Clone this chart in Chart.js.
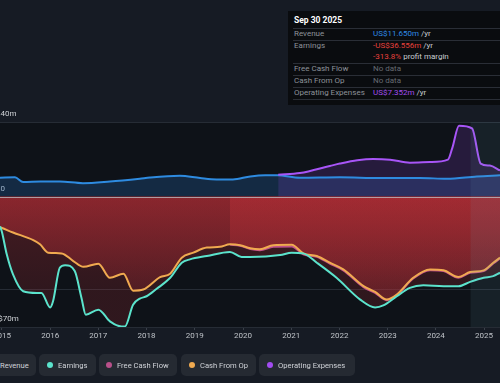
<!DOCTYPE html>
<html>
<head>
<meta charset="utf-8">
<script src="https://cdn.jsdelivr.net/npm/chart.js@4.4.0/dist/chart.umd.min.js"></script>
<style>
  html, body { margin:0; padding:0; background:#161b24; width:500px; height:383px; overflow:hidden; font-family: Roboto, "Noto Sans", sans-serif; }
  #wrap { position:absolute; left:0; top:0; width:500px; height:383px; }
  #tip { position:absolute; left:288px; top:11px; width:230px; height:94px; background:#0a0c0f; font-size:8px; }
  #tip .row { position:absolute; left:6px; right:0; height:12px; line-height:12px; white-space:nowrap; }
  #tip .sep { position:absolute; left:5px; right:0; height:1px; background:#2a2e36; }
  #tip .lab { position:absolute; left:0; color:#8d9299; }
  #tip .val { position:absolute; left:79px; color:#c9ccd1; }
  .pill { position:absolute; top:354px; height:22px; display:flex; align-items:center; box-sizing:border-box; padding:0 0 0 8px; background:#252a32; border-radius:5px; color:#d0d3d8; font-size:7.6px; white-space:nowrap; }
  .dot { width:6px; height:6px; border-radius:50%; margin-right:5px; flex:none; }
</style>
</head>
<body>
<div id="wrap"><canvas id="c" width="500" height="383"></canvas></div>

<div id="tip">
  <div class="row" style="top:3px;color:#fff;font-weight:bold;font-size:8.5px;">Sep 30 2025</div>
  <div class="sep" style="top:17px"></div>
  <div class="row" style="top:17px"><span class="lab">Revenue</span><span class="val"><span style="color:#2e8be6">US$11.650m</span> /yr</span></div>
  <div class="sep" style="top:29px"></div>
  <div class="row" style="top:29px"><span class="lab">Earnings</span><span class="val"><span style="color:#e8413c">-US$36.556m</span> /yr</span></div>
  <div class="row" style="top:40px"><span class="val"><span style="color:#e8413c">-313.8%</span> profit margin</span></div>
  <div class="sep" style="top:52px"></div>
  <div class="row" style="top:52px"><span class="lab">Free Cash Flow</span><span class="val" style="color:#666b72">No data</span></div>
  <div class="sep" style="top:64px"></div>
  <div class="row" style="top:64px"><span class="lab">Cash From Op</span><span class="val" style="color:#666b72">No data</span></div>
  <div class="sep" style="top:76px"></div>
  <div class="row" style="top:76px"><span class="lab">Operating Expenses</span><span class="val"><span style="color:#a24cf0">US$7.352m</span> /yr</span></div>
  <div class="sep" style="top:88px"></div>
</div>

<div class="pill" style="left:-19px;width:55px"><span class="dot" style="background:#2e8be0"></span>Revenue</div>
<div class="pill" style="left:39px;width:57px;padding-left:8px"><span class="dot" style="background:#5be3cc"></span>Earnings</div>
<div class="pill" style="left:99px;width:78px;padding-left:7px"><span class="dot" style="background:#b8508a"></span>Free Cash Flow</div>
<div class="pill" style="left:181px;width:75px;padding-left:8px"><span class="dot" style="background:#f0aa50"></span>Cash From Op</div>
<div class="pill" style="left:259px;width:96px;padding-left:8px"><span class="dot" style="background:#a24cf0"></span>Operating Expenses</div>

<script>
// ---- data (US$ millions, dates as fractional years) ----
const yearTicks = [2015,2016,2017,2018,2019,2020,2021,2022,2023,2024,2025];
const yTickValues = [-70,-50,0,40];
const yTickLabels = {"-70":"-US$70m","-50":"","0":"US$0","40":"US$40m"};

const revenueDates  = [2014.96,2015.27,2015.44,2015.8,2016.2,2016.68,2017.24,2017.86,2018.07,2018.69,2019.11,2019.45,2019.79,2020.15,2020.46,2020.71,2021.18,2022.01,2022.84,2023.67,2024.23,2024.85,2025.33];
const revenueValues = [10.1,10.3,7.8,8.1,8.1,7.2,8.1,9.6,10.2,11.1,9.9,9.2,9.2,10.8,11.4,11.4,10.1,10.4,9.9,10.0,9.5,10.8,11.4];

const opexDates  = [2020.73,2021.18,2021.8,2022.01,2022.37,2022.7,2023.05,2023.46,2023.88,2024.25,2024.34,2024.48,2024.75,2024.93,2025.12,2025.33];
const opexValues = [11.7,12.6,16.4,17.7,19.5,20.2,19.8,18.2,18.5,19.8,26.0,38.0,36.6,17.7,16.6,14.0];

const earningsDates  = [2014.96,2015.0,2015.1,2015.23,2015.44,2015.72,2015.82,2016.0,2016.06,2016.2,2016.31,2016.51,2016.65,2016.74,2017.0,2017.24,2017.48,2017.55,2017.72,2017.86,2018.0,2018.21,2018.49,2018.73,2018.9,2019.25,2019.73,2019.97,2020.15,2020.77,2021.01,2021.25,2021.53,2021.94,2022.43,2022.74,2022.91,2023.19,2023.46,2023.74,2024.16,2024.47,2024.71,2024.99,2025.19,2025.33];
const earningsValues = [-16,-19,-31,-41.8,-50.8,-51.7,-51.7,-59.5,-56.2,-38.2,-36.8,-40,-54.4,-63.4,-60.7,-67,-69.7,-69.7,-58,-54.8,-53.5,-49.5,-43.6,-35.5,-33.7,-31.9,-29.7,-32.4,-32.4,-31.4,-30.1,-30.5,-35.5,-43.6,-55.3,-59.5,-58.4,-53.5,-49,-47.6,-48.1,-48.1,-45.8,-43.6,-42.7,-40.9];

const cfoDates  = [2014.96,2015.0,2015.23,2015.65,2015.79,2015.96,2016.24,2016.48,2016.69,2017.0,2017.24,2017.52,2017.72,2017.93,2018.28,2018.49,2018.73,2018.97,2019.25,2019.52,2019.73,2019.94,2020.15,2020.35,2020.63,2021.01,2021.25,2021.53,2021.8,2022.08,2022.5,2022.74,2022.98,2023.19,2023.53,2023.88,2024.16,2024.47,2024.71,2024.99,2025.19,2025.33];
const cfoValues = [-16.5,-16.9,-19.3,-23.4,-25.6,-30.1,-30.5,-34.6,-37.7,-36,-43.6,-41.4,-50.5,-49.9,-43.2,-41.4,-32.8,-30.1,-27.4,-27,-25.6,-26.1,-27.8,-28.3,-26.1,-25.9,-30.5,-31.9,-35.5,-39.1,-48.1,-51.2,-55.3,-52.6,-43.6,-39.1,-39.6,-43.2,-40.5,-39.6,-35.5,-32.8];

const fcfDates  = [2019.73,2019.94,2020.15,2020.35,2020.63,2021.01,2021.25,2021.53,2021.8,2022.08,2022.5,2022.74,2022.98,2023.19,2023.53,2023.88,2024.16,2024.47,2024.71,2024.99,2025.19,2025.33];
const fcfValues = [-25.8,-26.4,-28.2,-28.8,-27.0,-26.8,-31.0,-32.3,-36.0,-39.6,-48.6,-51.7,-55.6,-53.0,-44.0,-39.5,-40.0,-43.6,-40.9,-40.0,-35.9,-33.2];

const latestPeriodStart = 2024.72;

// ---- helpers ----
const zip = (xs, ys) => xs.map((x, i) => ({x, y: ys[i]}));

function redGrad(rgb, a0, a1) {
  return (c) => {
    const chart = c.chart;
    const area = chart.chartArea;
    if (!area) return `rgba(${rgb},${a0})`;
    const y = chart.scales.y;
    const g = chart.ctx.createLinearGradient(0, y.getPixelForValue(0), 0, y.getPixelForValue(-50));
    g.addColorStop(0, `rgba(${rgb},${a0})`);
    g.addColorStop(1, `rgba(${rgb},${a1})`);
    return g;
  };
}

const bgPlugin = {
  id: 'bg',
  beforeDraw(chart) {
    const {ctx, chartArea: a} = chart;
    ctx.save();
    ctx.fillStyle = '#0e1218';
    ctx.fillRect(a.left, a.top, a.right - a.left, a.bottom - a.top);
    ctx.restore();
  },
  afterDatasetsDraw(chart) {
    const {ctx, chartArea: a, scales} = chart;
    ctx.save();
    const xb = scales.x.getPixelForValue(latestPeriodStart);
    ctx.fillStyle = 'rgba(110,170,190,0.10)';
    ctx.fillRect(xb, a.top, a.right - xb, a.bottom - a.top);
    const y0 = Math.round(scales.y.getPixelForValue(0)) + 0.5;
    ctx.strokeStyle = 'rgba(190,195,200,0.75)';
    ctx.lineWidth = 1;
    ctx.beginPath(); ctx.moveTo(a.left, y0); ctx.lineTo(a.right, y0); ctx.stroke();
    ctx.restore();
  }
};

const common = { pointRadius: 0, pointHoverRadius: 0, borderWidth: 2, cubicInterpolationMode: 'monotone' };

new Chart(document.getElementById('c'), {
  type: 'line',
  data: {
    datasets: [
      { ...common, label: 'Earnings', data: zip(earningsDates, earningsValues), borderColor: '#5be3cc', fill: 'origin', backgroundColor: redGrad('200,48,56', 0.30, 0.18) },
      { ...common, label: 'Cash From Op', data: zip(cfoDates, cfoValues), borderColor: '#f0aa50', fill: 'origin', backgroundColor: redGrad('200,48,56', 0.52, 0.22) },
      { ...common, label: 'Free Cash Flow', data: zip(fcfDates, fcfValues), borderColor: '#c0508a', fill: 'origin', backgroundColor: redGrad('215,55,62', 0.36, 0.14) },
      { ...common, label: 'Operating Expenses', data: zip(opexDates, opexValues), borderColor: '#a855f7', fill: 'origin', backgroundColor: 'rgba(150,70,230,0.18)' },
      { ...common, label: 'Revenue', data: zip(revenueDates, revenueValues), borderColor: '#2e8be0', fill: 'origin', backgroundColor: 'rgba(35,100,170,0.30)' }
    ]
  },
  options: {
    responsive: false,
    animation: false,
    devicePixelRatio: 1,
    layout: { padding: { top: 122, left: 0, right: 0, bottom: 0 } },
    plugins: {
      legend: { display: false },
      tooltip: { enabled: false },
      filler: { drawTime: 'beforeDatasetsDraw' }
    },
    events: [],
    scales: {
      x: {
        type: 'linear',
        min: 2014.96,
        max: 2025.33,
        afterFit: (s) => { s.height = 56; s.paddingLeft = 0; s.paddingRight = 0; },
        afterBuildTicks: (s) => { s.ticks = yearTicks.map(v => ({value: v})); },
        ticks: { color: '#bfc3c8', font: { size: 8, family: 'Roboto' }, padding: 1, maxRotation: 0, autoSkip: false, callback: (v) => String(v) },
        grid: { drawOnChartArea: false, drawTicks: true, tickLength: 3, color: '#3a4049' },
        border: { display: false }
      },
      y: {
        min: -70,
        max: 40,
        afterFit: (s) => { s.width = 0; s.paddingTop = 0; s.paddingBottom = 0; },
        afterBuildTicks: (s) => { s.ticks = yTickValues.map(v => ({value: v})); },
        ticks: { mirror: true, padding: -14, labelOffset: -8, color: '#cfd2d6', font: { size: 8, family: 'Roboto' }, callback: (v) => yTickLabels[String(v)] },
        grid: { drawTicks: false, color: (c) => c.tick && c.tick.value === 0 ? 'rgba(0,0,0,0)' : '#262c35' },
        border: { display: false }
      }
    }
  },
  plugins: [bgPlugin]
});
</script>
</body>
</html>
